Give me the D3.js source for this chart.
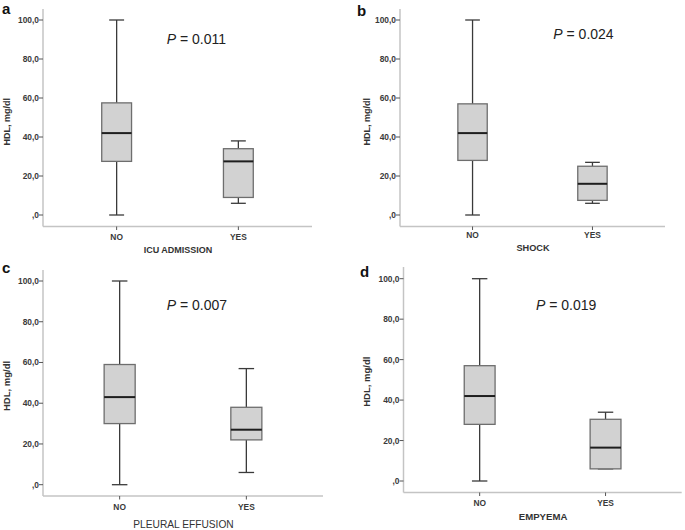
<!DOCTYPE html>
<html>
<head>
<meta charset="utf-8">
<script src="https://cdn.jsdelivr.net/npm/d3@7"></script>
<style>
  html, body { margin: 0; padding: 0; background: #fff; }
  svg { display: block; }
  text { font-family: "Liberation Sans", Arial, sans-serif; fill: #222; }
</style>
</head>
<body>
<svg id="chart" width="685" height="530"></svg>
<script>
// ---- data ----
const categories = ["NO", "YES"];
const yTickValues = [0, 20, 40, 60, 80, 100];
const panelLetters = ["a", "b", "c", "d"];
const xAxisTitles = ["ICU ADMISSION", "SHOCK", "PLEURAL EFFUSION", "EMPYEMA"];
const yAxisTitle = "HDL, mg/dl";
const pValues = ["0.011", "0.024", "0.007", "0.019"];
// box statistics per category: [min, Q1, median, Q3, max]
const icuStats      = [[0, 27.5, 42, 57.5, 100], [6, 9, 27.5, 34, 38]];
const shockStats    = [[0, 28, 42, 57, 100],     [6, 7.5, 16, 25, 27]];
const effusionStats = [[0, 30, 43, 59, 100],     [6, 22, 27, 38, 57]];
const empyemaStats  = [[0, 28, 42, 57, 100],     [6, 6, 16.5, 30.5, 34]];
const allStats = [icuStats, shockStats, effusionStats, empyemaStats];

// ---- layout (positions only) ----
const layouts = [
  {axisX: 43,    right: 312,   y0: 215,   y100: 20,    baseY: 226.5, topY: 9,
   letterX: 2,   letterY: 13.5, pX: 166.7, pY: 44,  titleY: 252.5, titleSize: 9,
   tickLabelY: 239.5, ylabX: 9.5, ylabY: 121.7, ylabSize: 9, titleWeight: "bold"},
  {axisX: 400,   right: 665,   y0: 215,   y100: 20,    baseY: 226.5, topY: 9,
   letterX: 357, letterY: 16,  pX: 553.3, pY: 39,  titleY: 251,   titleSize: 9.2,
   tickLabelY: 237.5, ylabX: 369.5, ylabY: 121.7, ylabSize: 9, titleWeight: "bold"},
  {axisX: 43,    right: 323,   y0: 484.7, y100: 281,   baseY: 496,   topY: 270,
   letterX: 2,   letterY: 272.7, pX: 166.7, pY: 310, titleY: 528, titleSize: 10.2,
   tickLabelY: 510, ylabX: 9.5, ylabY: 386, ylabSize: 9.5, titleWeight: "normal"},
  {axisX: 403.5, right: 681.7, y0: 481,   y100: 278.7, baseY: 492.5, topY: 267,
   letterX: 360, letterY: 276.7, pX: 536, pY: 310, titleY: 520, titleSize: 9.6,
   tickLabelY: 506, ylabX: 369.5, ylabY: 381.7, ylabSize: 9.5, titleWeight: "bold"}
];

const svg = d3.select("#chart");

allStats.forEach((stats, i) => {
  const L = layouts[i];
  const g = svg.append("g");

  const x = d3.scalePoint().domain(categories).range([L.axisX, L.right]).padding(0.605);
  const y = d3.scaleLinear().domain([0, 100]).range([L.y0, L.y100]);
  const boxW = x.step() * 0.245;

  // axis lines (light gray)
  g.append("line").attr("x1", L.axisX).attr("x2", L.axisX)
    .attr("y1", L.topY).attr("y2", L.baseY)
    .attr("stroke", "#c4c4c4").attr("stroke-width", 1.5);
  g.append("line").attr("x1", L.axisX).attr("x2", L.right)
    .attr("y1", L.baseY).attr("y2", L.baseY)
    .attr("stroke", "#c4c4c4").attr("stroke-width", 1.5);

  // y ticks
  const yt = g.selectAll(".yt").data(yTickValues).enter().append("g");
  yt.append("line")
    .attr("x1", L.axisX - 4).attr("x2", L.axisX)
    .attr("y1", d => y(d)).attr("y2", d => y(d))
    .attr("stroke", "#555").attr("stroke-width", 1);
  yt.append("text")
    .attr("x", L.axisX - 4).attr("y", d => y(d) + 3)
    .attr("text-anchor", "end").attr("font-size", 8.4).attr("font-weight", "bold")
    .style("fill", "#3a3a3a")
    .text(d => d === 0 ? ",0" : d3.format(".1f")(d).replace(".", ","));

  // x ticks
  const xt = g.selectAll(".xt").data(categories).enter().append("g");
  xt.append("line")
    .attr("x1", d => x(d)).attr("x2", d => x(d))
    .attr("y1", L.baseY).attr("y2", L.baseY + 3.5)
    .attr("stroke", "#555").attr("stroke-width", 1);
  xt.append("text")
    .attr("x", d => x(d)).attr("y", L.tickLabelY)
    .attr("text-anchor", "middle").attr("font-size", 8.4).attr("font-weight", "bold")
    .style("fill", "#3a3a3a")
    .text(d => d);

  // boxes
  const bx = g.selectAll(".box").data(stats.map((s, j) => ({cat: categories[j], s})))
    .enter().append("g");
  // whiskers
  bx.append("line")
    .attr("x1", d => x(d.cat)).attr("x2", d => x(d.cat))
    .attr("y1", d => y(d.s[3])).attr("y2", d => y(d.s[4]))
    .attr("stroke", "#3a3a3a").attr("stroke-width", 1.3);
  bx.append("line")
    .attr("x1", d => x(d.cat)).attr("x2", d => x(d.cat))
    .attr("y1", d => y(d.s[0])).attr("y2", d => y(d.s[1]))
    .attr("stroke", "#3a3a3a").attr("stroke-width", 1.3);
  // caps
  [0, 4].forEach(k => {
    bx.append("line")
      .attr("x1", d => x(d.cat) - boxW / 4).attr("x2", d => x(d.cat) + boxW / 4)
      .attr("y1", d => y(d.s[k])).attr("y2", d => y(d.s[k]))
      .attr("stroke", "#3a3a3a").attr("stroke-width", 1.3);
  });
  // box
  bx.append("rect")
    .attr("x", d => x(d.cat) - boxW / 2)
    .attr("width", boxW)
    .attr("y", d => y(d.s[3]))
    .attr("height", d => y(d.s[1]) - y(d.s[3]))
    .attr("fill", "#d2d2d2").attr("stroke", "#6e6e6e").attr("stroke-width", 1.3);
  // median
  bx.append("line")
    .attr("x1", d => x(d.cat) - boxW / 2).attr("x2", d => x(d.cat) + boxW / 2)
    .attr("y1", d => y(d.s[2])).attr("y2", d => y(d.s[2]))
    .attr("stroke", "#1e1e1e").attr("stroke-width", 2);

  // panel letter
  g.append("text").attr("x", L.letterX).attr("y", L.letterY)
    .attr("font-size", 15).attr("font-weight", "bold").style("fill", "#111")
    .text(panelLetters[i]);

  // P value
  const pt = g.append("text").attr("x", L.pX).attr("y", L.pY).attr("font-size", 14);
  pt.append("tspan").attr("font-style", "italic").text("P");
  pt.append("tspan").text(" = " + pValues[i]);

  // x axis title
  g.append("text").attr("x", (L.axisX + L.right) / 2 + 0.5).attr("y", L.titleY)
    .attr("text-anchor", "middle").attr("font-size", L.titleSize)
    .attr("font-weight", L.titleWeight).style("fill", "#333")
    .text(xAxisTitles[i]);

  // y axis title
  g.append("text")
    .attr("transform", `translate(${L.ylabX},${L.ylabY}) rotate(-90)`)
    .attr("text-anchor", "middle").attr("font-size", L.ylabSize).attr("font-weight", "bold")
    .style("fill", "#333")
    .text(yAxisTitle);
});
</script>
</body>
</html>
